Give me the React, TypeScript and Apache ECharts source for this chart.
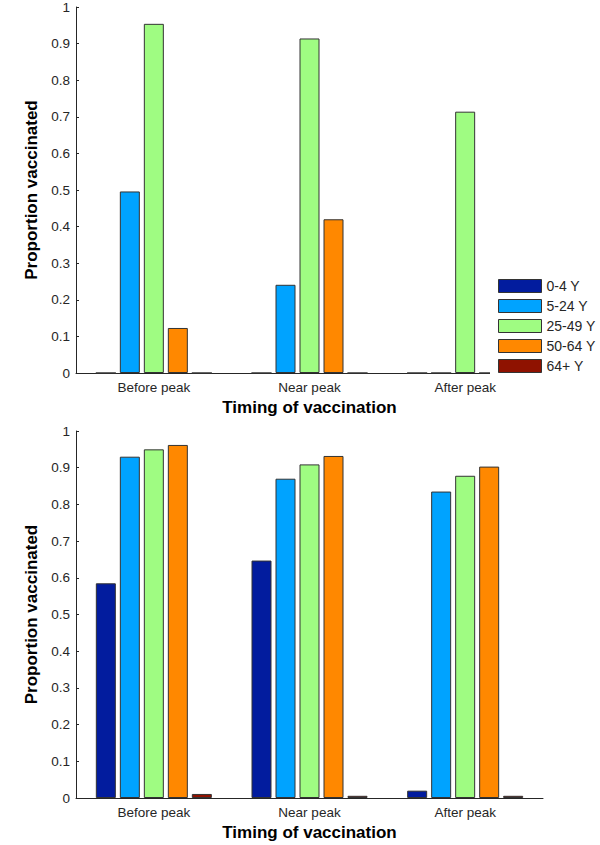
import React, { useEffect, useRef } from "react";
import * as echarts from "echarts";

const categories = ["Before peak", "Near peak", "After peak"];
const ageGroups = ["0-4 Y", "5-24 Y", "25-49 Y", "50-64 Y", "64+ Y"];
const colors = ["#021c9e", "#00a3ff", "#9ffc82", "#ff8800", "#8f1200"];

// top panel values per age group (Before, Near, After)
const top04 = [0, 0, 0];
const top524 = [0.496, 0.241, 0];
const top2549 = [0.954, 0.914, 0.714];
const top5064 = [0.123, 0.42, 0];
const top64p = [0, 0, 0];

// bottom panel values per age group
const bot04 = [0.585, 0.647, 0.02];
const bot524 = [0.93, 0.87, 0.835];
const bot2549 = [0.95, 0.909, 0.878];
const bot5064 = [0.962, 0.932, 0.903];
const bot64p = [0.011, 0.006, 0.006];

const yTicks = { min: 0, max: 1, interval: 0.1 };

export default function App() {
  const ref = useRef<HTMLDivElement>(null);
  useEffect(() => {
    if (!ref.current) return;
    const chart = echarts.init(ref.current, null, { renderer: "svg" });
    const font = "Liberation Sans, Arial, sans-serif";
    const txt = "#262626";
    const grids = [
      { left: 76, top: 6, width: 467, height: 367 },
      { left: 76, top: 431, width: 467, height: 367 },
    ];
    const xAxis = grids.map((_, i) => ({
      type: "category",
      gridIndex: i,
      data: categories,
      axisLine: { lineStyle: { color: txt, width: 1 } },
      axisTick: { show: false },
      axisLabel: { color: txt, fontSize: 13.5, fontFamily: font, margin: 7 },
      name: "Timing of vaccination",
      nameLocation: "middle",
      nameGap: 26,
      nameTextStyle: { color: "#000", fontSize: 17, fontWeight: "bold", fontFamily: font },
    }));
    const yAxis = grids.map((_, i) => ({
      type: "value",
      gridIndex: i,
      min: yTicks.min,
      max: yTicks.max,
      interval: yTicks.interval,
      splitLine: { show: false },
      axisLine: { show: true, lineStyle: { color: txt, width: 1 } },
      axisTick: { show: true, inside: true, length: 3, lineStyle: { color: txt } },
      axisLabel: { color: txt, fontSize: 13.5, fontFamily: font, margin: 6 },
      name: "Proportion vaccinated",
      nameLocation: "middle",
      nameGap: 30,
      nameTextStyle: { color: "#000", fontSize: 17, fontWeight: "bold", fontFamily: font },
    }));
    const topData = [top04, top524, top2549, top5064, top64p];
    const botData = [bot04, bot524, bot2549, bot5064, bot64p];
    const mk = (data: number[][], idx: number) =>
      data.map((d, k) => ({
        type: "bar",
        name: ageGroups[k],
        xAxisIndex: idx,
        yAxisIndex: idx,
        data: d,
        barWidth: 20,
        barGap: "20%",
        itemStyle: { color: colors[k], borderColor: "#333", borderWidth: 1 },
      }));
    chart.setOption({
      animation: false,
      backgroundColor: "#fff",
      grid: grids,
      xAxis,
      yAxis,
      legend: {
        orient: "vertical",
        left: 490,
        top: 275,
        padding: [4, 6, 4, 8],
        backgroundColor: "#fff",
        icon: "rect",
        itemWidth: 43,
        itemHeight: 13,
        itemGap: 6,
        data: ageGroups,
        itemStyle: { borderColor: "#333", borderWidth: 1 },
        textStyle: { color: txt, fontSize: 14, fontFamily: font, lineHeight: 13 },
      },
      series: [...mk(topData, 0), ...mk(botData, 1)],
    });
    return () => chart.dispose();
  }, []);
  return (
    <div
      ref={ref}
      style={{ position: "absolute", left: 0, top: 0, width: 600, height: 845 }}
    />
  );
}
